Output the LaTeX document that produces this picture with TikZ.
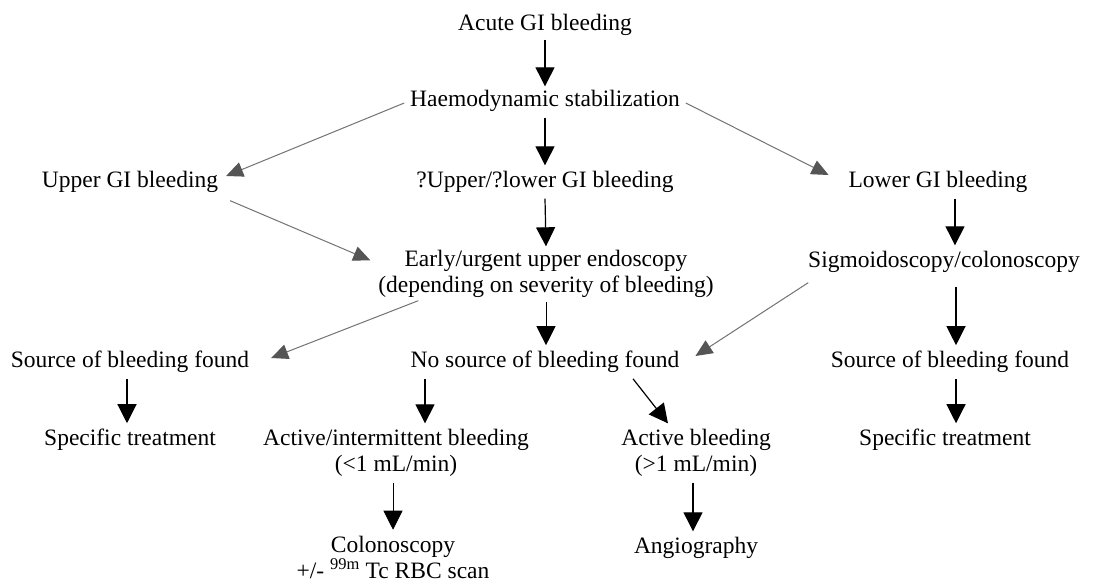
\documentclass[tikz,border=0pt]{standalone}
\usepackage{fontspec}
\setmainfont{Liberation Serif}
\usetikzlibrary{arrows.meta,calc}
\definecolor{grline}{RGB}{115,115,115}
\definecolor{grhead}{RGB}{85,85,85}
\begin{document}
\begin{tikzpicture}[x=1pt,y=1pt,
  lbl/.style={inner sep=0pt,outer sep=0pt,align=center,font=\fontsize{23.5}{26}\selectfont},
  blk/.style={draw=black,line width=1.2pt,-{Triangle[width=19pt,length=19pt]}},
  thinblk/.style={draw=black,line width=0.8pt,-{Triangle[width=19pt,length=19pt]}},
  gry/.style={draw=grline,line width=1pt,-{Triangle[width=15pt,length=17pt,fill=grhead,color=grhead]}}]
\useasboundingbox[fill=white] (0,0) rectangle (1099,582);
% nodes (y = 582 - pixel row)
\node[lbl] (acute)  at (545,557) {Acute GI bleeding};
\node[lbl] (haemo)  at (545,481) {Haemodynamic stabilization};
\node[lbl] (upper)  at (130,400) {Upper GI bleeding};
\node[lbl] (qupper) at (545,400) {?Upper/?lower GI bleeding};
\node[lbl] (lower)  at (938,400) {Lower GI bleeding};
\node[lbl] (early)  at (546,308) {Early/urgent upper endoscopy\\(depending on severity of bleeding)};
\node[lbl] (sigmo)  at (944,320) {Sigmoidoscopy/colonoscopy};
\node[lbl] (srcl)   at (130,220) {Source of bleeding found};
\node[lbl] (nosrc)  at (545,220) {No source of bleeding found};
\node[lbl] (srcr)   at (950,220) {Source of bleeding found};
\node[lbl] (specl)  at (130,142) {Specific treatment};
\node[lbl] (actint) at (396,129) {Active/intermittent bleeding\\(<1 mL/min)};
\node[lbl] (active) at (696,129) {Active bleeding\\(>1 mL/min)};
\node[lbl] (specr)  at (945,142) {Specific treatment};
\node[lbl] (colon)  at (393,25) {Colonoscopy\\+/- \textsuperscript{99m} Tc RBC scan};
\node[lbl] (angio)  at (696,34) {Angiography};
% black arrows
\draw[blk] ($(acute.south)+(0,-4)$) -- ($(haemo.north)+(0,4)$);
\draw[blk] ($(haemo.south)+(0,-6)$) -- ($(qupper.north)+(0,6)$);
\draw[blk] ($(qupper.south)+(0,-6)$) -- ($(early.north)+(0,4)$);
\draw[blk] ($(lower.south -| 955,0)+(0,-6)$) -- ($(sigmo.north -| 955,0)+(0,6)$);
\draw[blk] ($(sigmo.south -| 956,0)+(0,-14)$) -- ($(srcr.north -| 956,0)+(0,6)$);
\draw[blk] ($(srcr.south -| 956,0)+(0,-6)$) -- ($(specr.north -| 956,0)+(0,6)$);
\draw[thinblk] ($(early.south -| 546,0)+(0,-4)$) -- ($(nosrc.north -| 546,0)+(0,6)$);
\draw[blk] ($(srcl.south -| 127,0)+(0,-6)$) -- ($(specl.north -| 127,0)+(0,6)$);
\draw[blk] ($(nosrc.south -| 425,0)+(0,-6)$) -- ($(actint.north -| 425,0)+(0,6)$);
\draw[blk] ($(nosrc.south -| 633,0)+(0,-6)$) -- ($(active.north -| 668,0)+(0,6)$);
\draw[thinblk] ($(actint.south -| 393,0)+(0,-6)$) -- ($(colon.north -| 393,0)+(0,6)$);
\draw[blk] ($(active.south -| 693,0)+(0,-6)$) -- ($(angio.north -| 693,0)+(0,6)$);
% grey arrows
\draw[gry] ($(haemo.west)+(-6,-2)$) -- ($(upper.east)+(8,6)$);
\draw[gry] ($(haemo.east)+(6,-2)$) -- ($(lower.west)+(-20,7)$);
\draw[gry] ($(upper.south east)+(12,-8)$) -- ($(early.north west)+(-8,-10)$);
\draw[gry] ($(early.south west)+(40,-3)$) -- ($(srcl.east)+(22,4)$);
\draw[gry] ($(sigmo.south west)+(0,-10)$) -- ($(nosrc.east)+(16,6)$);
\end{tikzpicture}
\end{document}
